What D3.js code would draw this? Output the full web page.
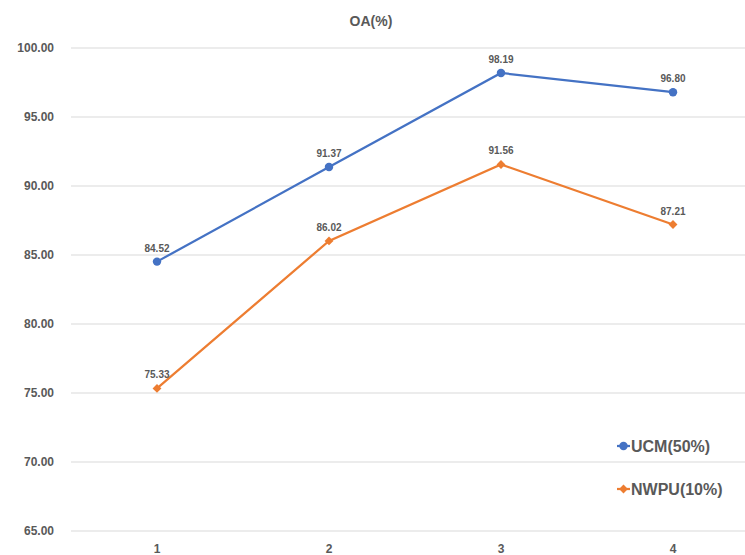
<!DOCTYPE html>
<html>
<head>
<meta charset="utf-8">
<script src="https://cdn.jsdelivr.net/npm/d3@7"></script>
<style>
  body { margin: 0; background: #fff; }
  text { font-family: "Liberation Sans", Arial, sans-serif; font-weight: bold; fill: #595959; }
</style>
</head>
<body>
<div id="chart"></div>
<script>
'use strict';

// chart data
var categories = ["1", "2", "3", "4"];
var ucmValues = [84.52, 91.37, 98.19, 96.80];
var nwpuValues = [75.33, 86.02, 91.56, 87.21];
var yTicks = [65, 70, 75, 80, 85, 90, 95, 100];
var seriesNames = ["UCM(50%)", "NWPU(10%)"];

(function() {
    var width = 745, height = 555;
    var margin = { left: 71, right: -14, top: 48, bottom: 24 };

    var svg = d3.select("#chart").append("svg")
        .attr("width", width)
        .attr("height", height);

    var x = d3.scaleBand()
        .domain(categories)
        .range([margin.left, width - margin.right]);

    var y = d3.scaleLinear()
        .domain([65, 100])
        .range([height - margin.bottom, margin.top]);

    // gridlines
    svg.append("g").selectAll("line")
        .data(yTicks)
        .enter().append("line")
        .attr("x1", margin.left)
        .attr("x2", width)
        .attr("y1", function(d) { return y(d); })
        .attr("y2", function(d) { return y(d); })
        .attr("stroke", "#d9d9d9")
        .attr("stroke-width", 1);

    // y labels
    svg.append("g").selectAll("text")
        .data(yTicks)
        .enter().append("text")
        .attr("x", 54)
        .attr("y", function(d) { return y(d) + 4; })
        .attr("text-anchor", "end")
        .style("font-size", "12px")
        .text(function(d) { return d.toFixed(2); });

    // x labels
    svg.append("g").selectAll("text")
        .data(categories)
        .enter().append("text")
        .attr("x", function(d) { return x(d) + x.bandwidth() / 2; })
        .attr("y", 553)
        .attr("text-anchor", "middle")
        .style("font-size", "12px")
        .text(function(d) { return d; });

    // title
    svg.append("text")
        .attr("x", 371)
        .attr("y", 26)
        .attr("text-anchor", "middle")
        .style("font-size", "14px")
        .text("OA(%)");

    var cx = function(d, i) { return x(categories[i]) + x.bandwidth() / 2; };
    var line = d3.line()
        .x(cx)
        .y(function(d) { return y(d); });

    var series = [
        { name: seriesNames[0], values: ucmValues, color: "#4472c4", shape: d3.symbolCircle, size: 56 },
        { name: seriesNames[1], values: nwpuValues, color: "#ed7d31", shape: d3.symbolDiamond2, size: 50 }
    ];

    series.forEach(function(s) {
        svg.append("path")
            .datum(s.values)
            .attr("d", line)
            .attr("fill", "none")
            .attr("stroke", s.color)
            .attr("stroke-width", 2.25);

        svg.append("g").selectAll("path")
            .data(s.values)
            .enter().append("path")
            .attr("d", d3.symbol().type(s.shape).size(s.size))
            .attr("transform", function(d, i) { return "translate(" + cx(d, i) + "," + y(d) + ")"; })
            .attr("fill", s.color);

        svg.append("g").selectAll("text")
            .data(s.values)
            .enter().append("text")
            .attr("x", cx)
            .attr("y", function(d) { return y(d) - 10; })
            .attr("text-anchor", "middle")
            .style("font-size", "10px")
            .text(function(d) { return d.toFixed(2); });
    });

    // legend
    var legend = svg.append("g");
    series.forEach(function(s, i) {
        var ly = 446 + i * 43;
        legend.append("line")
            .attr("x1", 617).attr("x2", 630)
            .attr("y1", ly).attr("y2", ly)
            .attr("stroke", s.color)
            .attr("stroke-width", 2.25);
        legend.append("path")
            .attr("d", d3.symbol().type(s.shape).size(s.size))
            .attr("transform", "translate(623.5," + ly + ")")
            .attr("fill", s.color);
        legend.append("text")
            .attr("x", 631)
            .attr("y", ly + 6)
            .style("font-size", "16px")
            .text(s.name);
    });
})();
</script>
</body>
</html>
